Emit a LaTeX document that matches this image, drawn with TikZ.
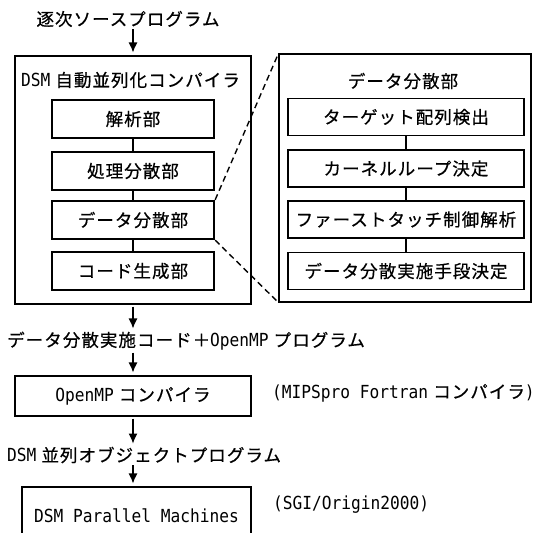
\documentclass[tikz,border=0pt]{standalone}
\usepackage{fontspec}
\newfontfamily\jp[LetterSpace=6,FakeBold=0.6]{Noto Sans CJK JP}
\newfontfamily\lat[FakeStretch=0.9]{DejaVu Sans Mono}
\usetikzlibrary{arrows.meta}
\newcommand\Jt[1]{{\jp\fontsize{17.5}{20}\selectfont #1}}
\newcommand\Lt[1]{{\lat\fontsize{18}{20}\selectfont #1}}
\begin{document}
\begin{tikzpicture}[x=1pt,y=-1pt,
  txt/.style={inner sep=0pt},
  frame/.style={draw, line width=1.1pt, inner sep=0pt},
  sub/.style={draw, line width=1.1pt, inner sep=0pt, minimum width=162pt, minimum height=38pt},
  subthick/.style={sub, line width=2.3pt},
  det/.style={draw, line width=1.1pt, inner sep=0pt, minimum width=236pt, minimum height=37pt},
  link/.style={line width=1.3pt},
  arr/.style={line width=1.2pt, -{Latex[length=10pt,width=9pt]}, shorten >=3pt, shorten <=2pt},
  zoomline/.style={line width=1.4pt, dash pattern=on 6pt off 4pt}]
\useasboundingbox (0,0) rectangle (550,533);
\clip (0,0) rectangle (550,533);

% source program
\node[txt] (src) at (128,19) {\Jt{逐次ソースプログラム}};

% DSM compiler frame
\node[frame, minimum width=236pt, minimum height=248pt] (dsm) at (133,180) {};
\node[txt, anchor=west] (dsmt) at (21,80) {\Lt{DSM}\hspace{5pt}\Jt{自動並列化コンパイラ}};
\node[sub] (a1) at (133,119) {\Jt{解析部}};
\node[sub] (a2) at (133,171) {\Jt{処理分散部}};
\node[subthick] (a3) at (133,220) {\Jt{データ分散部}};
\node[sub] (a4) at (133,271) {\Jt{コード生成部}};
\draw[link] (a1) -- (a2);
\draw[link] (a2) -- (a3);
\draw[link] (a3) -- (a4);

% detail frame
\node[frame, minimum width=252pt, minimum height=248pt] (detf) at (405,178) {};
\node[txt] (dett) at (403,81) {\Jt{データ分散部}};
\node[det] (b1) at (406,117) {\Jt{ターゲット配列検出}};
\node[det] (b2) at (406,168.5) {\Jt{カーネルループ決定}};
\node[det] (b3) at (406,219.5) {\Jt{ファーストタッチ制御解析}};
\node[det] (b4) at (406,271) {\Jt{データ分散実施手段決定}};
\draw[link] (b1) -- (b2);
\draw[link] (b2) -- (b3);
\draw[link] (b3) -- (b4);

% zoom lines
\draw[zoomline] (a3.north east) -- (detf.north west);
\draw[zoomline] (a3.south east) -- (detf.south west);

% lower flow
\node[txt, anchor=west] (t1) at (7,341) {\Jt{データ分散実施コード＋}\Lt{OpenMP}\hspace{5pt}\Jt{プログラム}};
\node[frame, minimum width=236pt, minimum height=40pt] (omp) at (133,396) {\Lt{OpenMP}\hspace{5pt}\Jt{コンパイラ}};
\node[txt, anchor=west] (mips) at (272,393) {\Lt{(MIPSpro Fortran}\hspace{5pt}\Jt{コンパイラ}\Lt{)}};
\node[txt, anchor=west] (t2) at (7,455) {\Lt{DSM}\hspace{5pt}\Jt{並列オブジェクトプログラム}};
\node[frame, minimum width=229pt, minimum height=58pt] (pm) at (136.5,516) {\Lt{DSM Parallel Machines}};
\node[txt, anchor=west] (sgi) at (273,505) {\Lt{(SGI/Origin2000)}};

\draw[arr] (src.south -| dsm.north) -- (dsm.north);
\draw[arr] (dsm.south) -- (t1.north -| dsm.south);
\draw[arr] (t1.south -| omp.north) -- (omp.north);
\draw[arr] (omp.south) -- (t2.north -| omp.south);
\draw[arr] (t2.south -| omp.north) -- (pm.north -| omp.north);
\end{tikzpicture}
\end{document}
